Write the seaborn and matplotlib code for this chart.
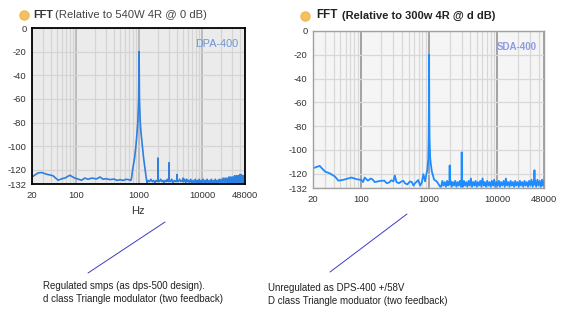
import matplotlib
matplotlib.use("Agg")
import matplotlib.pyplot as plt
from matplotlib.lines import Line2D
from matplotlib.ticker import FixedLocator, LogLocator, NullFormatter, MultipleLocator
import seaborn as sns
import pandas as pd

# ---------------- data ----------------
dpa_freq = [20, 25, 28.6, 34, 43, 52, 60, 67, 80, 88, 96, 110, 122, 138, 155, 177, 212, 240,
            270, 300, 346, 400, 450, 500, 560, 620, 676, 740, 760, 790, 850, 890, 925, 955, 985,
            1000, 1015, 1045, 1080, 1128, 1180, 1250, 1300, 1340,
            1380, 1460, 1540, 1620, 1700, 1780, 1860, 1940, 1985, 2000, 2015, 2100, 2200, 2300,
            2400, 2500, 2600, 2700, 2800, 2900, 2985, 3000, 3015, 3150, 3300, 3450, 3600, 3750,
            3900, 3985, 4000, 4015, 4200, 4400, 4600, 4800, 4985, 5000, 5100, 5300, 5500, 5700,
            5900, 6100, 6300, 6600, 6900, 7200, 7500, 7800, 8100, 8400, 8700, 9000, 9300, 9600,
            10000, 10400, 10800, 11200, 11600, 12000, 12500, 13000, 13500, 14000, 14500, 15000,
            15600, 16200, 16800, 17400, 18000, 18700, 19400, 20100, 20800, 21600, 22400, 23200,
            24000, 24900, 25800, 26700, 27600, 28600, 29600, 30600, 31600, 32700, 33800, 34900,
            36000, 37200, 38400, 39600, 40800, 42000, 43200, 44400, 45600, 46800, 48000]
dpa_db = [-126, -122.6, -122.3, -123.7, -125, -128.8, -127.5, -126.9, -124.6, -126, -127, -128,
          -128.8, -127, -128, -127, -127.7, -126.1, -128, -127.5, -128.3, -127.8, -129, -128.3,
          -129, -128, -128.3, -129, -127, -120, -110, -100, -90, -80, -60,
          -20, -60, -80, -90, -100, -110, -120, -127, -131,
          -129, -130, -128, -130, -129, -131, -129, -130, -129, -110, -129, -130, -128, -130,
          -129, -131, -129, -130, -128, -130, -129, -114, -129, -130, -128, -131, -129, -130,
          -129, -130, -124, -129, -130, -128, -130, -129, -130, -127, -130, -128, -131, -128,
          -130, -129, -131, -128, -131, -129, -131, -128, -131, -129, -131, -128, -131, -129,
          -131, -128, -131, -129, -131, -128, -131, -129, -131, -128, -131, -129,
          -131, -128, -131, -129, -131, -128, -131, -128, -131, -127, -131, -127,
          -131, -127, -132, -126, -131, -126, -132, -126, -131, -125, -132, -125,
          -131, -125, -132, -124, -131, -124, -132, -125, -131, -125, -128]

sda_freq = [20, 25, 30, 35, 42, 47, 55, 73, 87, 102, 108, 114, 127, 140, 150, 160, 177, 195, 221,
            240, 261, 280, 300, 315, 333, 360, 395, 420, 443, 480, 524, 560, 590, 620, 650, 693,
            740, 780, 825, 873, 900, 940, 970, 985, 995, 1000, 1005, 1015, 1035, 1060, 1095, 1184,
            1295, 1444, 1500, 1560, 1620, 1690, 1760, 1830, 1900, 1960, 1990, 2000, 2010, 2060,
            2140, 2230, 2320, 2410, 2510, 2610, 2710, 2820, 2930, 2985, 3000, 3015, 3100, 3230,
            3360, 3490, 3630, 3780, 3930, 4090, 4250, 4420, 4600, 4780, 4970, 5170, 5380, 5600,
            5820, 6050, 6300, 6550, 6810, 7080, 7360, 7660, 7970, 8290, 8620, 8960, 9320, 9700,
            10100, 10500, 10900, 11300, 11800, 12300, 12800, 13300, 13800, 14400, 15000, 15600,
            16200, 16800, 17500, 18200, 18900, 19700, 20500, 21300, 22100, 23000, 23900, 24900,
            25900, 26900, 28000, 29100, 30300, 31500, 32800, 34100, 34700, 34800, 34900, 35500,
            36900, 38400, 39900, 41500, 43200, 44900, 46700, 48000]
sda_db = [-115.4, -113.4, -118.2, -119.6, -122.4, -125.8, -125.2, -123.2, -124.6, -125.2, -127,
          -123.2, -125.8, -124, -125, -127, -126.5, -126, -125.8, -128, -127.3, -125.5, -126.5,
          -121.5, -127, -128, -126.5, -126, -128, -129, -126.5, -127, -130, -128, -127, -125.3,
          -130, -127.5, -120.4, -126.5, -122, -117, -108, -90, -60, -20, -60, -90, -106, -112,
          -118, -125, -126.5, -130.8,
          -131, -126, -130, -127, -131, -126, -130, -127, -129, -113, -129, -126,
          -131, -127, -130, -126, -131, -127, -130, -126, -131, -128, -102, -128, -131, -126,
          -130, -127, -131, -126, -130, -124, -131, -127, -130, -126, -131, -127, -130, -126,
          -131, -124, -130, -127, -131, -126, -130, -127, -131, -126, -130, -125, -131, -127,
          -130, -126, -131, -127, -130, -126, -131, -124, -130, -127, -131, -126,
          -130, -127, -131, -126, -130, -127, -131, -126, -130, -127, -131, -126,
          -130, -127, -131, -126, -130, -125, -131, -126, -129, -117, -129, -126,
          -131, -125, -130, -126, -131, -125, -130, -126]

x_ticks = [20, 100, 1000, 10000, 48000]
x_tick_labels = ["20", "100", "1000", "10000", "48000"]
y_ticks = [0, -20, -40, -60, -80, -100, -120, -132]
y_tick_labels = ["0", "-20", "-40", "-60", "-80", "-100", "-120", "-132"]

left_title_bold = "FFT"
left_title = "(Relative to 540W 4R @ 0 dB)"
right_title_bold = "FFT"
right_title = "(Relative to 300w 4R @ d dB)"
left_label = "DPA-400"
right_label = "SDA-400"
left_notes = ["Regulated smps (as dps-500 design).", "d class Triangle modulator (two feedback)"]
right_notes = ["Unregulated as DPS-400 +/58V", "D class Triangle moduator (two feedback)"]

# ---------------- style ----------------
sns.set_theme(style="white")
plt.rcParams["font.family"] = ["Liberation Sans", "DejaVu Sans"]

W, H = 578, 326
fig = plt.figure(figsize=(W / 100, H / 100), dpi=100)
fig.patch.set_facecolor("white")


def fx(x):
    return x / W


def fy(y):
    return 1 - y / H


def make_axes(x0, y0, x1, y1):
    return fig.add_axes([fx(x0), fy(y1), fx(x1) - fx(x0), fy(y0) - fy(y1)])


def style_axes(ax, face, minor_grid, major_grid, hgrid, spine_color, spine_lw):
    ax.set_xscale("log")
    ax.set_xlim(20, 48000)
    ax.set_ylim(-132, 0)
    ax.set_facecolor(face)
    ax.xaxis.set_major_locator(FixedLocator(x_ticks))
    ax.set_xticklabels(x_tick_labels)
    ax.xaxis.set_minor_locator(LogLocator(base=10, subs=range(2, 10), numticks=20))
    ax.xaxis.set_minor_formatter(NullFormatter())
    ax.yaxis.set_major_locator(FixedLocator(y_ticks))
    ax.set_yticklabels(y_tick_labels)
    ax.yaxis.set_minor_locator(MultipleLocator(5))
    ax.grid(False)
    ax.grid(which="minor", axis="x", color=minor_grid, linewidth=0.9, zorder=0)
    ax.grid(which="major", axis="x", color=major_grid, linewidth=1.1, zorder=0)
    ax.grid(which="major", axis="y", color=hgrid, linewidth=0.9, zorder=0)
    ax.set_axisbelow(True)
    for s in ax.spines.values():
        s.set_color(spine_color)
        s.set_linewidth(spine_lw)
    ax.tick_params(axis="both", which="major", direction="out", length=2.5, width=0.8,
                   color="#555555", labelsize=6.8, labelcolor="#333333", pad=1.5)
    ax.tick_params(axis="both", which="minor", direction="out", length=1.5, width=0.8,
                   color="#555555")
    ax.tick_params(axis="x", which="major", length=2, pad=3)
    ax.set_xlabel("")
    ax.set_ylabel("")


# left panel
axL = make_axes(32, 28, 245, 184)
dfL = pd.DataFrame({"freq": dpa_freq, "db": dpa_db})
sns.lineplot(data=dfL, x="freq", y="db", ax=axL, color="#2e7fe0", linewidth=1.2,
             estimator=None, sort=False)
style_axes(axL, "#ebebeb", "#d4d4d4", "#b0b0b0", "#d4d4d4", "black", 1.3)
axL.text(0.97, 0.90, left_label, transform=axL.transAxes, ha="right", va="center",
         color="#6f95d2", fontsize=7.8)

# right panel
axR = make_axes(313, 31, 544, 188)
dfR = pd.DataFrame({"freq": sda_freq, "db": sda_db})
sns.lineplot(data=dfR, x="freq", y="db", ax=axR, color="#1e8cff", linewidth=1.3,
             estimator=None, sort=False)
style_axes(axR, "#f5f5f5", "#d8d8d8", "#8c8c8c", "#d8d8d8", "#a0a0a0", 1.0)
axR.text(0.97, 0.90, right_label, transform=axR.transAxes, ha="right", va="center",
         color="#8c9be6", fontsize=7.0, fontweight="bold")

# titles
for (xd, yd) in [(24, 14.5), (305, 15.5)]:
    fig.add_artist(Line2D([fx(xd)], [fy(yd)], marker="o", markersize=6.5, color="#f5c065",
                          markeredgecolor="#f0b850", transform=fig.transFigure))
fig.text(fx(33), fy(14.5), left_title_bold, fontsize=7.8, fontweight="bold", color="#333333",
         va="center", ha="left")
fig.text(fx(55), fy(14.5), left_title, fontsize=8.1, color="#444444", va="center", ha="left")
fig.text(fx(316), fy(15.5), right_title_bold, fontsize=8.4, fontweight="bold", color="#222222",
         va="center", ha="left")
fig.text(fx(342), fy(16), right_title, fontsize=8.0, fontweight="bold", color="#222222",
         va="center", ha="left")

fig.text(fx(138), fy(211), "Hz", fontsize=8, color="#333333", ha="center", va="center")

# annotation lines
fig.add_artist(Line2D([fx(88), fx(165)], [fy(273), fy(222)], color="#3b3bc8", linewidth=0.7,
                      transform=fig.transFigure))
fig.add_artist(Line2D([fx(330), fx(407)], [fy(272), fy(214)], color="#3b3bc8", linewidth=0.7,
                      transform=fig.transFigure))

for i, t in enumerate(left_notes):
    fig.text(fx(43), fy(286 + 13.5 * i), t, fontsize=7, color="#222222", ha="left", va="center")
for i, t in enumerate(right_notes):
    fig.text(fx(268), fy(288 + 13.5 * i), t, fontsize=7, color="#222222", ha="left", va="center")

fig.savefig("out.png", dpi=100, facecolor="white")
